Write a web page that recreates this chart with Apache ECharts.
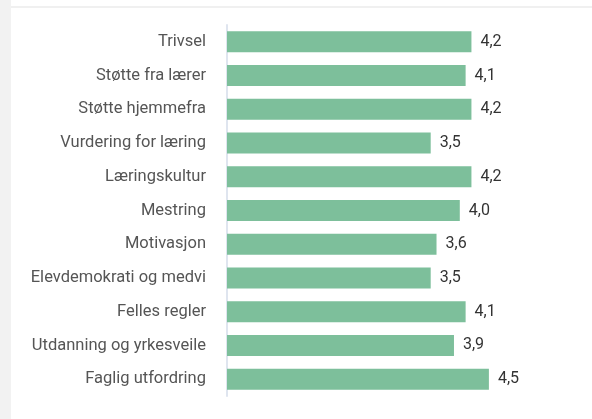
<!DOCTYPE html>
<html>
<head>
<meta charset="utf-8">
<script src="https://cdn.jsdelivr.net/npm/echarts@6/dist/echarts.min.js"></script>
<style>
html,body{margin:0;padding:0;background:#fff;}
#wrap{position:relative;width:592px;height:419px;overflow:hidden;}
#strip{position:absolute;left:0;top:0;width:11px;height:419px;background:#f2f2f2;}
#topline{position:absolute;left:11px;top:6px;width:581px;height:2px;background:#f0f0f0;}
#container{position:absolute;left:0;top:0;width:592px;height:419px;}
</style>
</head>
<body>
<div id="wrap">
<div id="strip"></div>
<div id="topline"></div>
<div id="container"></div>
</div>
<script>
// kategorier ovenfra og ned
var categories = ['Trivsel','Støtte fra lærer','Støtte hjemmefra','Vurdering for læring','Læringskultur','Mestring','Motivasjon','Elevdemokrati og medvirkning','Felles regler','Utdanning og yrkesveiledning','Faglig utfordring'];
var values = [4.2,4.1,4.2,3.5,4.2,4.0,3.6,3.5,4.1,3.9,4.5];

var e={
	init:function(){
		var myChart = echarts.init(document.getElementById('container'));
		var option = {
			animation:false,
			grid:{left:227,right:74,top:25,bottom:23},
			xAxis:{
				type:'value',
				min:0,
				max:5,
				show:false
			},
			yAxis:{
				type:'category',
				inverse:true,
				data:categories,
				axisLine:{show:true,lineStyle:{color:'#dfe5ef',width:2}},
				axisTick:{show:false},
				axisLabel:{
					margin:21,
					width:177,
					overflow:'truncate',
					ellipsis:'',
					color:'#555',
					fontSize:16.5,
					fontFamily:'Roboto'
				}
			},
			series:[{
				type:'bar',
				data:values,
				barWidth:21,
				itemStyle:{color:'#7dbf9b'},
				label:{
					show:true,
					position:'right',
					distance:9,
					color:'#333',
					fontSize:16,
					fontFamily:'Roboto',
					formatter:function(p){return p.value.toFixed(1).replace('.',',');}
				}
			}]
		};
		myChart.setOption(option);
	}
};
e.init();
</script>
</body>
</html>
